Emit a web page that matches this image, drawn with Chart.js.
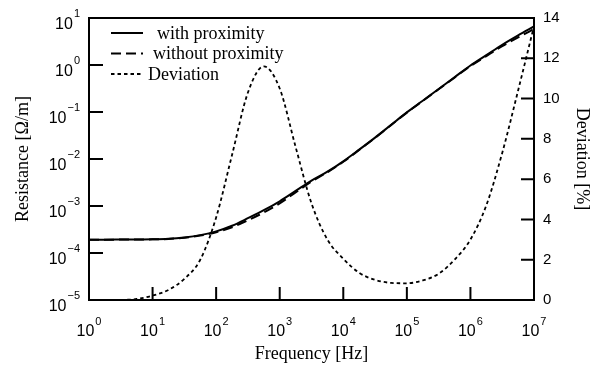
<!DOCTYPE html>
<html lang="en">
<head>
  <meta charset="UTF-8">
  <title>Resistance vs Frequency</title>
  <script src="https://cdn.jsdelivr.net/npm/chart.js@4/dist/chart.umd.min.js"></script>
  <style>
    body { margin: 0; background: #fff; }
    canvas { display: block; }
  </style>
</head>
<body>
<canvas id="resChart" width="599" height="368"></canvas>

<script>
  // frequencies in Hz (quarter decades)
  const freq = [1, 1.778, 3.162, 5.623, 10, 17.78, 31.62, 56.23, 100, 177.8, 316.2, 562.3,
    1000, 1778, 3162, 5623, 1e4, 1.778e4, 3.162e4, 5.623e4, 1e5, 1.778e5, 3.162e5, 5.623e5,
    1e6, 1.778e6, 3.162e6, 5.623e6, 1e7];

  // resistance [ohm/m]
  const withProx = [1.92e-4, 1.92e-4, 1.93e-4, 1.94e-4, 1.95e-4, 2.0e-4, 2.14e-4, 2.40e-4,
    2.88e-4, 3.80e-4, 5.50e-4, 8.13e-4, 1.26e-3, 2.09e-3, 3.47e-3, 5.37e-3, 8.91e-3,
    1.58e-2, 2.85e-2, 5.30e-2, 0.098, 0.174, 0.309, 0.550, 0.977, 1.62, 2.69, 4.27, 6.61];
  const withoutProx = [1.92e-4, 1.92e-4, 1.93e-4, 1.94e-4, 1.95e-4, 1.99e-4, 2.12e-4, 2.35e-4,
    2.77e-4, 3.54e-4, 4.99e-4, 7.29e-4, 1.14e-3, 1.94e-3, 3.31e-3, 5.21e-3, 8.73e-3,
    1.56e-2, 2.82e-2, 5.25e-2, 0.0972, 0.172, 0.305, 0.539, 0.949, 1.55, 2.51, 3.87, 5.82];

  // deviation [%]
  const deviation = [null, null, 0.0, 0.05, 0.22, 0.5, 1.05, 2.0, 4.1, 7.2, 10.3, 11.6,
    10.5, 7.6, 4.8, 3.0, 2.05, 1.35, 1.0, 0.85, 0.83, 0.97, 1.3, 2.0, 3.0, 4.7, 7.3, 10.4, 13.6];

  const xTicks = [1, 10, 100, 1e3, 1e4, 1e5, 1e6, 1e7];
  const xExp = ['0', '1', '2', '3', '4', '5', '6', '7'];
  const yTicks = [1e-5, 1e-4, 1e-3, 1e-2, 1e-1, 1, 10];
  const yExp = ['\u22125', '\u22124', '\u22123', '\u22122', '\u22121', '0', '1'];
  const devTicks = [0, 2, 4, 6, 8, 10, 12, 14];

  const legendNames = ['with proximity', 'without proximity', 'Deviation'];

  function pts(ys) {
    return freq.map((f, i) => ({ x: f, y: ys[i] }));
  }

  const axisFont = '"Liberation Sans", Arial, sans-serif';
  const serifFont = '"Liberation Serif", "Times New Roman", serif';

  const framePlugin = {
    id: 'frame',
    afterDatasetsDraw(chart) {
      const ctx = chart.ctx;
      const a = chart.chartArea;
      const sx = chart.scales.x, sy = chart.scales.y, s2 = chart.scales.y2;
      ctx.save();
      ctx.strokeStyle = '#000';
      ctx.lineWidth = 2;
      ctx.strokeRect(a.left, a.top, a.right - a.left, a.bottom - a.top);

      // inward tick marks
      ctx.beginPath();
      xTicks.forEach(v => {
        const px = sx.getPixelForValue(v);
        ctx.moveTo(px, a.bottom); ctx.lineTo(px, a.bottom - 13);
      });
      yTicks.forEach(v => {
        const py = sy.getPixelForValue(v);
        ctx.moveTo(a.left, py); ctx.lineTo(a.left + 14, py);
      });
      devTicks.forEach(v => {
        const py = s2.getPixelForValue(v);
        ctx.moveTo(a.right, py); ctx.lineTo(a.right - 13, py);
      });
      ctx.stroke();

      // power-of-ten labels
      ctx.fillStyle = '#000';
      ctx.textBaseline = 'alphabetic';
      xTicks.forEach((v, i) => {
        const px = sx.getPixelForValue(v);
        ctx.font = '16px ' + axisFont;
        const w1 = ctx.measureText('10').width;
        ctx.font = '11px ' + axisFont;
        const w2 = ctx.measureText(xExp[i]).width;
        const x0 = px - (w1 + w2 + 1) / 2;
        ctx.font = '16px ' + axisFont;
        ctx.textAlign = 'left';
        ctx.fillText('10', x0, a.bottom + 36);
        ctx.font = '11px ' + axisFont;
        ctx.fillText(xExp[i], x0 + w1 + 1, a.bottom + 25);
      });
      yTicks.forEach((v, i) => {
        const py = sy.getPixelForValue(v);
        ctx.font = '11px ' + axisFont;
        const w2 = ctx.measureText(yExp[i]).width;
        ctx.textAlign = 'right';
        ctx.fillText(yExp[i], 80, py - 1);
        ctx.font = '16px ' + axisFont;
        ctx.fillText('10', 80 - w2 - 1, py + 11);
      });

      // legend
      const rows = [33, 53.5, 74];
      const gaps = [14, 10, 5];
      chart.data.datasets.forEach((ds, i) => {
        ctx.beginPath();
        ctx.lineWidth = ds.borderWidth;
        ctx.setLineDash(ds.borderDash || []);
        ctx.moveTo(a.left + 22, rows[i]);
        ctx.lineTo(a.left + 54, rows[i]);
        ctx.stroke();
        ctx.setLineDash([]);
        ctx.font = '18px ' + serifFont;
        ctx.textAlign = 'left';
        ctx.textBaseline = 'middle';
        ctx.fillText(ds.label, a.left + 54 + gaps[i], rows[i] + 1);
      });
      ctx.restore();
    }
  };

  const ctx = document.getElementById('resChart').getContext('2d');
  new Chart(ctx, {
    type: 'line',
    data: {
      datasets: [{
        label: legendNames[0],
        data: pts(withProx),
        yAxisID: 'y',
        borderColor: '#000',
        borderWidth: 2,
        pointRadius: 0,
        cubicInterpolationMode: 'monotone'
      }, {
        label: legendNames[1],
        data: pts(withoutProx),
        yAxisID: 'y',
        borderColor: '#000',
        borderWidth: 2,
        borderDash: [10, 5],
        pointRadius: 0,
        cubicInterpolationMode: 'monotone'
      }, {
        label: legendNames[2],
        data: pts(deviation),
        yAxisID: 'y2',
        borderColor: '#000',
        borderWidth: 1.8,
        borderDash: [3.5, 3],
        pointRadius: 0,
        cubicInterpolationMode: 'monotone'
      }]
    },
    options: {
      responsive: false,
      animation: false,
      devicePixelRatio: 1,
      layout: { padding: { top: 15, left: 0, right: 0, bottom: 0 } },
      plugins: { legend: { display: false }, tooltip: { enabled: false } },
      scales: {
        x: {
          type: 'logarithmic',
          position: 'bottom',
          min: 1,
          max: 1e7,
          grid: { display: false, drawTicks: false },
          border: { display: false },
          ticks: { display: false },
          afterBuildTicks: s => { s.ticks = xTicks.map(v => ({ value: v })); },
          afterFit: s => { s.height = 68; },
          title: {
            display: true,
            text: 'Frequency [Hz]',
            color: '#000',
            font: { family: serifFont, size: 18 },
            padding: { top: 0, bottom: 3 }
          }
        },
        y: {
          type: 'logarithmic',
          position: 'left',
          min: 1e-5,
          max: 10,
          grid: { display: false, drawTicks: false },
          border: { display: false },
          ticks: { display: false },
          afterBuildTicks: s => { s.ticks = yTicks.map(v => ({ value: v })); },
          afterFit: s => { s.width = 89; },
          title: {
            display: true,
            text: 'Resistance [\u03A9/m]',
            color: '#000',
            font: { family: serifFont, size: 18 },
            padding: { top: 12, bottom: 0 }
          }
        },
        y2: {
          type: 'linear',
          position: 'right',
          min: 0,
          max: 14,
          grid: { display: false, drawTicks: false },
          border: { display: false },
          ticks: {
            stepSize: 2,
            padding: 9,
            color: '#000',
            font: { family: axisFont, size: 15 }
          },
          afterFit: s => { s.width = 65; },
          title: {
            display: true,
            text: 'Deviation [%]',
            color: '#000',
            font: { family: serifFont, size: 18 },
            padding: { top: 6, bottom: 0 }
          }
        }
      }
    },
    plugins: [framePlugin]
  });
</script>
</body>
</html>
